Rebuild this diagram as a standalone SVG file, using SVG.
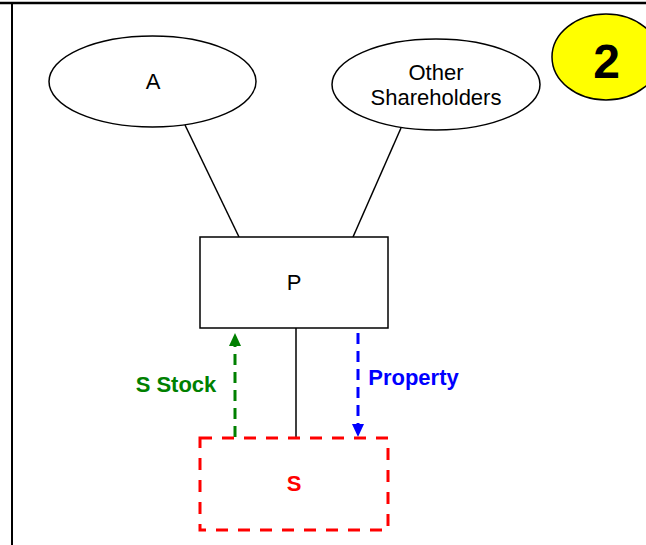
<svg xmlns="http://www.w3.org/2000/svg" width="646" height="545" viewBox="0 0 646 545">
<style>
.shape{fill:#fff;stroke:#000;stroke-width:1.5}
.lbl{font-family:"Liberation Sans",Arial,sans-serif;font-size:22px;text-anchor:middle;fill:#000}
.bold{font-weight:bold}
.ln{stroke:#000;stroke-width:1.5;fill:none}
</style>
<rect width="646" height="545" fill="#fff"/>
<g id="frame">
<line x1="0" y1="3" x2="646" y2="3" stroke="#000" stroke-width="2.5"/>
<line x1="12" y1="3" x2="12" y2="545" stroke="#000" stroke-width="2"/>
</g>
<g id="connectors">
<line class="ln" x1="185" y1="125" x2="239" y2="237"/>
<line class="ln" x1="401" y1="128" x2="353" y2="237"/>
<line class="ln" x1="296" y1="328" x2="296" y2="437"/>
<line x1="235" y1="437" x2="235" y2="346" stroke="#008000" stroke-width="3" stroke-dasharray="11 7"/>
<path d="M229,346 L241,346 L235,333 Z" fill="#008000"/>
<line x1="358" y1="333" x2="358" y2="424" stroke="#0000FF" stroke-width="3" stroke-dasharray="11 7"/>
<path d="M352,424 L364,424 L358,437 Z" fill="#0000FF"/>
<text class="lbl bold" x="176" y="392" style="fill:#008000">S Stock</text>
<text class="lbl bold" x="413.5" y="385" style="fill:#0000FF">Property</text>
</g>
<g id="A">
<ellipse class="shape" cx="152.5" cy="81.5" rx="103.5" ry="45.5"/>
<text class="lbl" x="153" y="89">A</text>
</g>
<g id="Other">
<ellipse class="shape" cx="436" cy="84.5" rx="104" ry="45.5"/>
<text class="lbl" x="436" y="80">Other</text>
<text class="lbl" x="436" y="105">Shareholders</text>
</g>
<g id="P">
<rect class="shape" x="200" y="237" width="188" height="91"/>
<text class="lbl" x="294" y="290">P</text>
</g>
<g id="S">
<rect x="200" y="438" width="188" height="92" fill="none" stroke="#FF0000" stroke-width="3" stroke-dasharray="12 10"/>
<text class="lbl bold" x="294" y="491" style="fill:#FF0000">S</text>
</g>
<g id="badge">
<ellipse cx="606" cy="57" rx="54" ry="43" fill="#FFFF00" stroke="#000" stroke-width="1.5"/>
<text x="606.5" y="78" font-family="'Liberation Sans',Arial,sans-serif" font-size="48" font-weight="bold" text-anchor="middle" fill="#000">2</text>
</g>
</svg>
